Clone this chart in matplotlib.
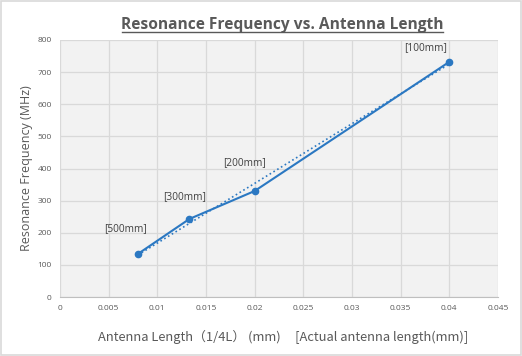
import numpy as np
import matplotlib.pyplot as plt
from matplotlib.patches import Rectangle
from matplotlib.lines import Line2D

# data
length = [0.008, 0.0133, 0.02, 0.04]
freq = [134, 243, 330, 732]
labels = ['[500mm]', '[300mm]', '[200mm]', '[100mm]']
label_offsets = [(-12, 25), (-5, 22), (-10, 28), (-24, 14)]

plt.rcParams['font.family'] = ['Open Sans', 'DejaVu Sans']

fig = plt.figure(figsize=(5.22, 3.56), dpi=100)
fig.patches.append(Rectangle((0.002, 0.003), 0.996, 0.994, transform=fig.transFigure,
                             fill=False, edgecolor='#d9d9d9', linewidth=1.2))

ax = fig.add_axes([60 / 522, 59 / 356, 438 / 522, 257 / 356])
ax.set_facecolor('#f2f2f2')
ax.grid(True, color='#d9d9d9', linewidth=0.9)
ax.set_axisbelow(True)
for s in ['top', 'right', 'left']:
    ax.spines[s].set_visible(False)
ax.spines['bottom'].set_color('#bfbfbf')

blue = '#2b78c2'
ax.plot(length, freq, color=blue, linewidth=1.5, marker='o', markersize=4.5)

# linear trendline
k, b = np.polyfit(length, freq, 1)
xt = np.array([length[0], length[-1]])
ax.plot(xt, k * xt + b, color=blue, linewidth=1.2, linestyle=':')

for x, y, t, off in zip(length, freq, labels, label_offsets):
    ax.annotate(t, (x, y), xytext=off, textcoords='offset pixels',
                ha='center', va='center', fontsize=7.3, color='#404040')

ax.set_xlim(0, 0.045)
ax.set_ylim(0, 800)
ax.set_xticks(np.arange(0, 0.0451, 0.005))
ax.set_xticklabels(['0', '0.005', '0.01', '0.015', '0.02', '0.025', '0.03', '0.035', '0.04', '0.045'])
ax.set_yticks(range(0, 801, 100))
ax.tick_params(length=0, labelsize=6, colors='#595959', pad=6)

ax.set_ylabel('Resonance Frequency (MHz)', fontsize=9, color='#595959', labelpad=3)
fig.text(283 / 522, 1 - 337 / 356, 'Antenna Length（1/4L） (mm)     [Actual antenna length(mm)]',
         ha='center', va='center', fontsize=9.3, color='#595959',
         family=['Noto Sans CJK JP', 'DejaVu Sans'])

fig.text(282 / 522, 1 - 29 / 356, 'Resonance Frequency vs. Antenna Length',
         ha='center', va='baseline', fontsize=11.2, fontweight='bold', color='#595959')
fig.lines.append(Line2D([122 / 522, 443 / 522], [1 - 32 / 356, 1 - 32 / 356],
                        transform=fig.transFigure, color='#595959', linewidth=1))

fig.savefig('out.png', dpi=100)
